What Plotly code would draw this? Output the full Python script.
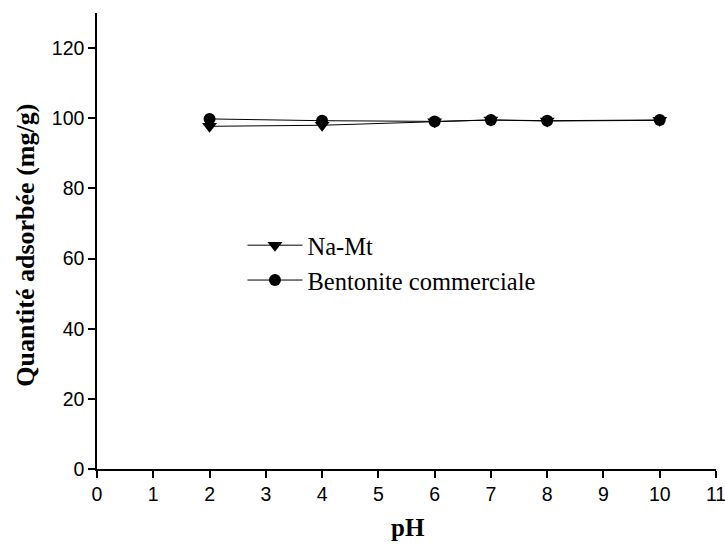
import plotly.graph_objects as go

ph = [2, 4, 6, 7, 8, 10]
na_mt = [97.7, 98.0, 99.0, 99.5, 99.2, 99.4]
bentonite = [99.8, 99.3, 99.1, 99.5, 99.3, 99.5]

x_ticks = list(range(0, 12))
y_ticks = list(range(0, 121, 20))

fig = go.Figure()
fig.add_trace(go.Scatter(
    x=ph, y=na_mt, name="Na-Mt", mode="lines+markers",
    line=dict(color="black", width=1),
    marker=dict(symbol="triangle-down", size=13, color="black"),
))
fig.add_trace(go.Scatter(
    x=ph, y=bentonite, name="Bentonite commerciale", mode="lines+markers",
    line=dict(color="black", width=1),
    marker=dict(symbol="circle", size=12, color="black"),
))

axis_common = dict(
    showline=True, linecolor="black", linewidth=1.5,
    ticks="outside", ticklen=7, tickcolor="black", tickwidth=1.5,
    showgrid=False, zeroline=False, mirror=False,
    ticklabeloverflow="allow", automargin=False,
    tickfont=dict(family="Liberation Sans, Arial", size=19.5, color="black"),
)

title_font = dict(family="Liberation Serif, Times New Roman", size=25, color="black")

fig.update_layout(
    width=725, height=546,
    margin=dict(l=97, r=9, t=13, b=77),
    paper_bgcolor="white", plot_bgcolor="white",
    xaxis=dict(range=[0, 11], tickvals=x_ticks, **axis_common),
    yaxis=dict(range=[0, 130], tickvals=y_ticks, **axis_common),
    legend=dict(x=0.235, y=0.54, xanchor="left", yanchor="top",
                bgcolor="rgba(0,0,0,0)",
                font=dict(family="Liberation Serif, Times New Roman", size=24.5, color="black"),
                tracegroupgap=0, itemwidth=55),
    showlegend=True,
    annotations=[
        dict(text="<b>pH</b>", xref="paper", yref="paper", x=0.503, y=-0.128,
             xanchor="center", yanchor="middle", showarrow=False, font=title_font),
        dict(text="<b>Quantité adsorbée (mg/g)</b>", xref="paper", yref="paper",
             x=-0.116, y=0.49, xanchor="center", yanchor="middle", textangle=-90,
             showarrow=False, font=dict(title_font, size=26)),
    ],
)

fig.write_html("out.html")
